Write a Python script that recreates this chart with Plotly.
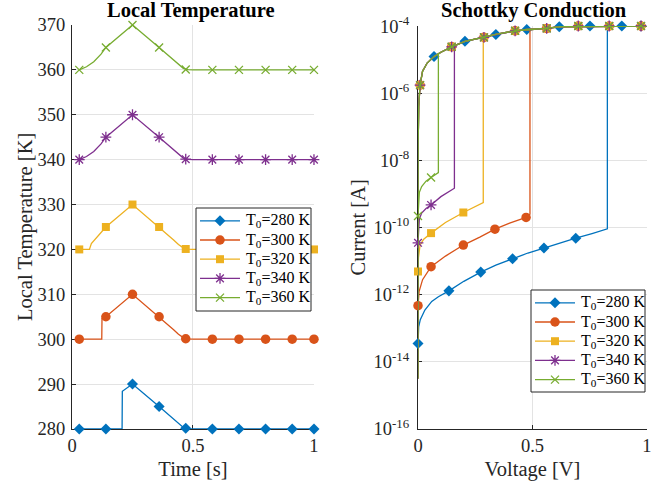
import plotly.graph_objects as go

# ---------------- data: local temperature vs time ----------------
time_280 = [0.03, 0.207, 0.208, 0.25, 0.36, 0.39, 0.42, 0.44, 0.46, 0.48, 0.50, 0.75, 1.00]
temp_280 = [280, 280, 288.4, 290, 285, 283.6, 282.1, 281.1, 280.35, 280.05, 280, 280, 280]

time_300 = [0.03, 0.123, 0.124, 0.14, 0.25, 0.36, 0.39, 0.42, 0.44, 0.46, 0.48, 0.50, 0.75, 1.00]
temp_300 = [300, 300, 304.6, 305, 310, 305, 303.6, 302.1, 301.1, 300.35, 300.05, 300, 300, 300]

time_320 = [0.03, 0.072, 0.08, 0.11, 0.14, 0.25, 0.36, 0.39, 0.42, 0.44, 0.46, 0.48, 0.50, 0.75, 1.00]
temp_320 = [320, 320, 321.3, 323.1, 325, 330, 325, 323.6, 322.1, 321.1, 320.35, 320.05, 320, 320, 320]

time_340 = [0.03, 0.06, 0.09, 0.12, 0.14, 0.25, 0.36, 0.39, 0.42, 0.44, 0.46, 0.48, 0.50, 0.75, 1.00]
temp_340 = [340, 340.7, 341.8, 343.5, 345, 350, 345, 343.6, 342.1, 341.1, 340.35, 340.05, 340, 340, 340]

time_360 = [0.03, 0.06, 0.09, 0.12, 0.14, 0.25, 0.36, 0.39, 0.42, 0.44, 0.46, 0.48, 0.50, 0.75, 1.00]
temp_360 = [360, 360.7, 361.8, 363.5, 365, 370, 365, 363.6, 362.1, 361.1, 360.35, 360.05, 360, 360, 360]

time_marks = [0.03, 0.14, 0.25, 0.36, 0.47, 0.58, 0.69, 0.80, 0.91, 1.00]
mark_280 = [280, 280, 290, 285, 280.15, 280, 280, 280, 280, 280]
mark_300 = [300, 305, 310, 305, 300.1, 300, 300, 300, 300, 300]
mark_320 = [320, 325, 330, 325, 320.1, 320, 320, 320, 320, 320]
mark_340 = [340, 345, 350, 345, 340.1, 340, 340, 340, 340, 340]
mark_360 = [360, 365, 370, 365, 360.1, 360, 360, 360, 360, 360]

# ---------------- data: Schottky conduction I-V ----------------
# high-current branch, swept from 1 V back down to 0 V
env_v = [1.0, 0.9, 0.8, 0.7, 0.617, 0.562, 0.475, 0.424, 0.34, 0.288, 0.205, 0.147,
         0.10, 0.07, 0.04, 0.02, 0.009, 0.003, 0.0008, 0.0]
env_i = [1.0e-4, 1.0e-4, 1.0e-4, 1.0e-4, 9.5e-5, 8.5e-5, 7.9e-5, 7.2e-5, 5.6e-5, 4.6e-5,
         3.5e-5, 2.4e-5, 1.66e-5, 1.23e-5, 7.9e-6, 4.5e-6, 1.74e-6, 4.0e-7, 3.2e-8, 3.2e-15]

# low-current branches (forward sweep up to switching)
v_280 = [0.0, 0.001, 0.003, 0.01, 0.03, 0.06, 0.089, 0.135, 0.2, 0.274, 0.34, 0.413,
         0.48, 0.55, 0.62, 0.689, 0.76, 0.827]
i_280 = [3.5e-14, 7.9e-14, 1.1e-13, 1.8e-13, 3.5e-13, 6.3e-13, 8.7e-13, 1.3e-12, 2.5e-12,
         4.7e-12, 7.6e-12, 1.17e-11, 1.74e-11, 2.45e-11, 3.5e-11, 4.8e-11, 6.6e-11, 9.1e-11]
v_300 = [0.0, 0.001, 0.005, 0.02, 0.057, 0.12, 0.198, 0.27, 0.336, 0.40, 0.472, 0.489]
i_300 = [4.7e-13, 7.9e-13, 1.26e-12, 2.8e-12, 6.8e-12, 1.41e-11, 3.0e-11, 5.2e-11,
         8.9e-11, 1.35e-10, 2.0e-10, 2.5e-10]
v_320 = [0.0, 0.002, 0.009, 0.025, 0.057, 0.12, 0.198, 0.285]
i_320 = [4.9e-12, 1.26e-11, 3.0e-11, 4.5e-11, 6.8e-11, 1.41e-10, 2.8e-10, 5.5e-10]
v_340 = [0.0, 0.002, 0.006, 0.016, 0.035, 0.057, 0.1, 0.159]
i_340 = [3.5e-11, 1.0e-10, 1.8e-10, 2.7e-10, 3.7e-10, 4.7e-10, 8.3e-10, 1.48e-9]
v_360 = [0.0, 0.002, 0.006, 0.016, 0.035, 0.057, 0.089]
i_360 = [2.2e-10, 6.3e-10, 1.12e-9, 1.66e-9, 2.4e-9, 3.1e-9, 4.3e-9]

# switching voltage and the current reached after the jump
v_switch = [0.827, 0.489, 0.285, 0.159, 0.089]
i_switch = [1.0e-4, 8.0e-5, 4.6e-5, 2.6e-5, 1.5e-5]

# marker positions
mv_280 = [0.0, 0.135, 0.274, 0.413, 0.55, 0.689, 0.974, 0.89, 0.751, 0.617, 0.475, 0.34, 0.205, 0.07]
mi_280 = [3.5e-14, 1.3e-12, 4.7e-12, 1.17e-11, 2.45e-11, 4.8e-11, 1.0e-4, 1.0e-4, 1.0e-4,
          9.5e-5, 7.9e-5, 5.6e-5, 3.5e-5, 1.23e-5]
blob_v = [0.974, 0.835, 0.70, 0.562, 0.424, 0.288, 0.147, 0.009]
blob_i = [1.0e-4, 1.0e-4, 1.0e-4, 8.5e-5, 7.2e-5, 4.6e-5, 2.4e-5, 1.74e-6]
mv_300 = [0.0, 0.057, 0.198, 0.336, 0.472] + blob_v
mi_300 = [4.7e-13, 6.8e-12, 3.0e-11, 8.9e-11, 2.0e-10] + blob_i
mv_320 = [0.0, 0.057, 0.198] + blob_v
mi_320 = [4.9e-12, 6.8e-11, 2.8e-10] + blob_i
mv_340 = [0.0, 0.057] + blob_v
mi_340 = [3.5e-11, 4.7e-10] + blob_i
mv_360 = [0.0, 0.057] + blob_v
mi_360 = [2.2e-10, 3.1e-9] + blob_i

names = ["T<sub>0</sub>=280 K", "T<sub>0</sub>=300 K", "T<sub>0</sub>=320 K",
         "T<sub>0</sub>=340 K", "T<sub>0</sub>=360 K"]
y_ticks_temp = [280, 290, 300, 310, 320, 330, 340, 350, 360, 370]
y_ticks_cur = [1e-16, 1e-14, 1e-12, 1e-10, 1e-8, 1e-6, 1e-4]
y_ticktext_cur = ["10<sup>-16</sup>", "10<sup>-14</sup>", "10<sup>-12</sup>", "10<sup>-10</sup>",
                  "10<sup>-8</sup>", "10<sup>-6</sup>", "10<sup>-4</sup>"]

# ---------------- styling ----------------
COLORS = ["#0072BD", "#D95319", "#EDB120", "#7E2F8E", "#77AC30"]
SYMBOLS = ["diamond", "circle", "square", "asterisk-open", "x-thin-open"]
SIZES = [8.5, 9.5, 8, 9, 8]
FONT = "Liberation Serif, Times New Roman, serif"
INK = "#262626"
GRID = "#e3e3e3"
W, H = 667, 487

# legend boxes (pixel layout: left, top, width, height)
LEGEND_BOXES = [(196, 208, 115, 103), (531, 290, 114, 102)]
LEG_ROW0, LEG_ROW = 12.8, 19.2      # first row centre offset, row pitch
LEG_LINE = (4, 44)                   # sample line span from box left
LEG_TEXT = 48                        # text start from box left

fig = go.Figure()


def marker_style(k):
    m = dict(symbol=SYMBOLS[k], size=SIZES[k], color=COLORS[k])
    if SYMBOLS[k].endswith("open"):
        m["line"] = dict(color=COLORS[k], width=1.3)
    else:
        m["line"] = dict(width=0)
    return m


def add_series(k, xs, ys, mx, my, xa, ya):
    fig.add_trace(go.Scatter(x=xs, y=ys, mode="lines", xaxis=xa, yaxis=ya,
                             line=dict(color=COLORS[k], width=1.3), showlegend=False,
                             hoverinfo="skip"))
    fig.add_trace(go.Scatter(x=mx, y=my, mode="markers", xaxis=xa, yaxis=ya,
                             marker=marker_style(k), showlegend=False, cliponaxis=False,
                             name=names[k]))


# left panel
temp_lines = [(time_280, temp_280, mark_280), (time_300, temp_300, mark_300),
              (time_320, temp_320, mark_320), (time_340, temp_340, mark_340),
              (time_360, temp_360, mark_360)]
for k, (t, T, m) in enumerate(temp_lines):
    add_series(k, t, T, time_marks, m, "x", "y")

# right panel: forward low branch, jump, high branch up to 1 V, then back to 0 V
iv_lines = [(v_280, i_280, mv_280, mi_280), (v_300, i_300, mv_300, mi_300),
            (v_320, i_320, mv_320, mi_320), (v_340, i_340, mv_340, mi_340),
            (v_360, i_360, mv_360, mi_360)]
for k, (v, i, mv, mi) in enumerate(iv_lines):
    vs, is_ = v_switch[k], i_switch[k]
    up_v = [ev for ev in env_v if ev > vs][::-1]
    up_i = [ei for ev, ei in zip(env_v, env_i) if ev > vs][::-1]
    xs = v + [vs] + up_v + env_v
    ys = i + [is_] + up_i + env_i
    add_series(k, xs, ys, mv, mi, "x2", "y2")

# legends, drawn on a full-page pixel overlay so they sit above the data
annotations = []
for (bx, by, bw, bh) in LEGEND_BOXES:
    fig.add_trace(go.Scatter(x=[bx, bx + bw, bx + bw, bx, bx], y=[by, by, by + bh, by + bh, by],
                             mode="lines", fill="toself", fillcolor="white",
                             line=dict(color=INK, width=1), xaxis="x3", yaxis="y3",
                             showlegend=False, hoverinfo="skip"))
    for k in range(5):
        cy = by + LEG_ROW0 + k * LEG_ROW
        x0, x1 = bx + LEG_LINE[0], bx + LEG_LINE[1]
        fig.add_trace(go.Scatter(x=[x0, x1], y=[cy, cy], mode="lines",
                                 line=dict(color=COLORS[k], width=1.3),
                                 xaxis="x3", yaxis="y3", showlegend=False, hoverinfo="skip"))
        fig.add_trace(go.Scatter(x=[(x0 + x1) / 2], y=[cy], mode="markers",
                                 marker=marker_style(k), xaxis="x3", yaxis="y3",
                                 showlegend=False, hoverinfo="skip"))
        annotations.append(dict(text=names[k], x=(bx + LEG_TEXT) / W, y=1 - cy / H,
                                xref="paper", yref="paper", xanchor="left", yanchor="middle",
                                showarrow=False,
                                font=dict(family=FONT, size=16, color="black")))

axis_common = dict(showline=True, linecolor=INK, linewidth=1, ticks="inside", ticklen=4,
                   tickcolor=INK, tickwidth=1, showgrid=True, gridcolor=GRID, gridwidth=1,
                   zeroline=False, mirror=False, layer="below traces", automargin=False,
                   tickfont=dict(family=FONT, size=18.5, color=INK),
                   title_font=dict(family=FONT, size=20.5, color=INK))

title_font = dict(family=FONT, size=20.5, color="black")
label_font = dict(family=FONT, size=20.5, color=INK)
annotations += [
    dict(text="<b>Local Temperature</b>", x=191 / W, y=1 - 11 / H, xref="paper",
         yref="paper", xanchor="center", yanchor="middle", showarrow=False, font=title_font),
    dict(text="<b>Schottky Conduction</b>", x=534 / W, y=1 - 11 / H, xref="paper",
         yref="paper", xanchor="center", yanchor="middle", showarrow=False, font=title_font),
    # vertical axis titles
    dict(text="Local Temperature [K]", x=25 / W, y=1 - 227 / H, xref="paper", yref="paper",
         xanchor="center", yanchor="middle", textangle=-90, showarrow=False, font=label_font),
    dict(text="Current [A]", x=358 / W, y=1 - 227.5 / H, xref="paper", yref="paper",
         xanchor="center", yanchor="middle", textangle=-90, showarrow=False, font=label_font),
]

fig.update_layout(
    width=W, height=H, margin=dict(l=0, r=0, t=0, b=0),
    paper_bgcolor="white", plot_bgcolor="rgba(0,0,0,0)",
    font=dict(family=FONT, color=INK),
    showlegend=False,
    xaxis=dict(domain=[72 / W, 314 / W], range=[0, 1.0001], tickvals=[0, 0.5, 1],
               ticktext=["0", "0.5", "1"], anchor="y",
               title=dict(text="Time [s]", standoff=6), **axis_common),
    yaxis=dict(domain=[1 - 429 / H, 1 - 25 / H], range=[279.99, 370], tickvals=y_ticks_temp,
               anchor="x", ticklabelstandoff=2, **axis_common),
    xaxis2=dict(domain=[418 / W, 647 / W], range=[0, 1.0001], tickvals=[0, 0.5, 1],
                ticktext=["0", "0.5", "1"], anchor="y2",
                title=dict(text="Voltage [V]", standoff=6), **axis_common),
    yaxis2=dict(domain=[1 - 429 / H, 1 - 26 / H], type="log", range=[-16, -3.9995],
                tickvals=y_ticks_cur, ticktext=y_ticktext_cur, anchor="x2",
                ticklabelstandoff=4, **axis_common),
    xaxis3=dict(domain=[0, 1], range=[0, W], visible=False, anchor="y3", fixedrange=True),
    yaxis3=dict(domain=[0, 1], range=[H, 0], visible=False, anchor="x3", fixedrange=True),
    annotations=annotations,
)

fig.write_html("out.html")
